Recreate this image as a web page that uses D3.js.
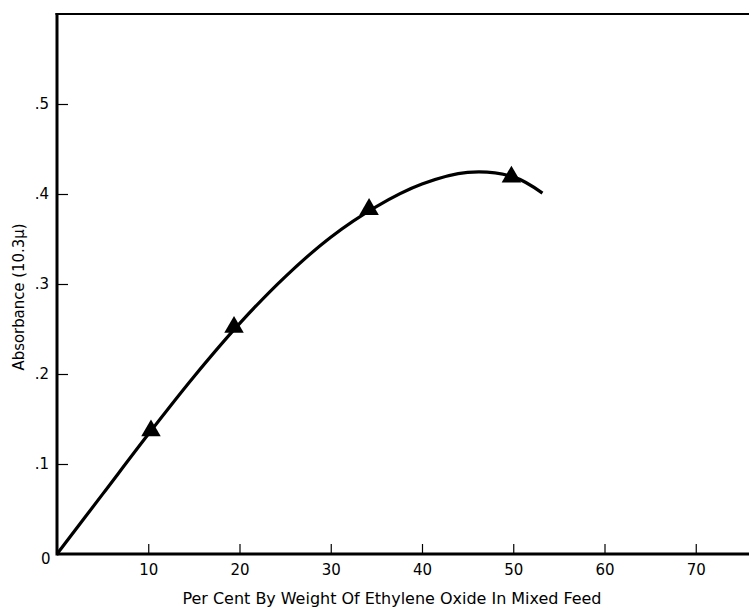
<!DOCTYPE html>
<html>
<head>
<meta charset="utf-8">
<script src="https://cdn.jsdelivr.net/npm/d3@7"></script>
<style>
  body { margin: 0; background: #fff; }
  svg { display: block; }
  .axis text { font-family: "DejaVu Sans", sans-serif; font-size: 15px; fill: #000; }
  .axis path.domain { display: none; }
  .axis line { stroke: #000; stroke-width: 1.2; }
</style>
</head>
<body>
<div id="chart"></div>
<script>
// measured points (per cent ethylene oxide, absorbance)
var pointX = [10.3, 19.4, 34.2, 49.8];
var pointY = [0.137, 0.252, 0.383, 0.419];

// smooth curve drawn through the points
var curveX = [0, 5, 10, 15, 20, 25, 30, 35, 40, 45, 50, 53.2];
var curveY = [0, 0.0665, 0.133, 0.197, 0.256, 0.308, 0.352, 0.386, 0.411, 0.424, 0.419, 0.401];

var xTicks = [10, 20, 30, 40, 50, 60, 70];
var yTicks = [0.1, 0.2, 0.3, 0.4, 0.5];

var W = 749, H = 608;

var svg = d3.select("#chart").append("svg")
    .attr("width", W)
    .attr("height", H);

var x = d3.scaleLinear().domain([0, 80]).range([57, 787]);
var y = d3.scaleLinear().domain([0, 0.6]).range([554, 14]);

// x axis, ticks pointing inward
svg.append("g")
    .attr("class", "axis")
    .attr("transform", "translate(0," + y(0) + ")")
    .call(d3.axisBottom(x).tickValues(xTicks).tickSize(-10).tickPadding(10).tickFormat(d3.format("d")));

// y axis
svg.append("g")
    .attr("class", "axis")
    .attr("transform", "translate(" + x(0) + ",0)")
    .call(d3.axisLeft(y).tickValues(yTicks).tickSize(-11).tickPadding(8)
        .tickFormat(function(d){ return "." + Math.round(d * 10); }));

// frame lines
svg.append("line")
    .attr("x1", x(0)).attr("x2", W)
    .attr("y1", y(0)).attr("y2", y(0))
    .attr("stroke", "#000").attr("stroke-width", 3);
svg.append("line")
    .attr("x1", x(0)).attr("x2", x(0))
    .attr("y1", y(0.6) - 1).attr("y2", y(0) + 1.5)
    .attr("stroke", "#000").attr("stroke-width", 3);
svg.append("line")
    .attr("x1", x(0) - 1.5).attr("x2", W)
    .attr("y1", y(0.6)).attr("y2", y(0.6))
    .attr("stroke", "#000").attr("stroke-width", 2);

// origin label
svg.append("text")
    .attr("x", x(0) - 16)
    .attr("y", y(0) + 10)
    .attr("font-family", "DejaVu Sans, sans-serif")
    .attr("font-size", 15)
    .text("0");

// curve
var curveData = curveX.map(function(d, i){ return [d, curveY[i]]; });
var line = d3.line()
    .x(function(d){ return x(d[0]); })
    .y(function(d){ return y(d[1]); })
    .curve(d3.curveCatmullRom);

svg.append("path")
    .datum(curveData)
    .attr("d", line)
    .attr("fill", "none")
    .attr("stroke", "#000")
    .attr("stroke-width", 3.2);

// triangle markers
var tri = d3.symbol().type(d3.symbolTriangle).size(165);
svg.selectAll(".pt")
    .data(pointX)
    .enter()
    .append("path")
    .attr("class", "pt")
    .attr("d", tri)
    .attr("transform", function(d, i){ return "translate(" + x(d) + "," + y(pointY[i]) + ")"; })
    .attr("fill", "#000");

// axis titles
svg.append("text")
    .attr("x", 392)
    .attr("y", 604)
    .attr("text-anchor", "middle")
    .attr("font-family", "DejaVu Sans Condensed, DejaVu Sans, sans-serif")
    .attr("font-size", 16.5)
    .attr("textLength", 419)
    .attr("lengthAdjust", "spacingAndGlyphs")
    .text("Per Cent By Weight Of Ethylene Oxide In Mixed Feed");

svg.append("text")
    .attr("transform", "translate(24,297) rotate(-90)")
    .attr("text-anchor", "middle")
    .attr("font-family", "DejaVu Sans Condensed, DejaVu Sans, sans-serif")
    .attr("font-size", 15)
    .attr("textLength", 147)
    .attr("lengthAdjust", "spacingAndGlyphs")
    .text("Absorbance (10.3\u03bc)");
</script>
</body>
</html>
